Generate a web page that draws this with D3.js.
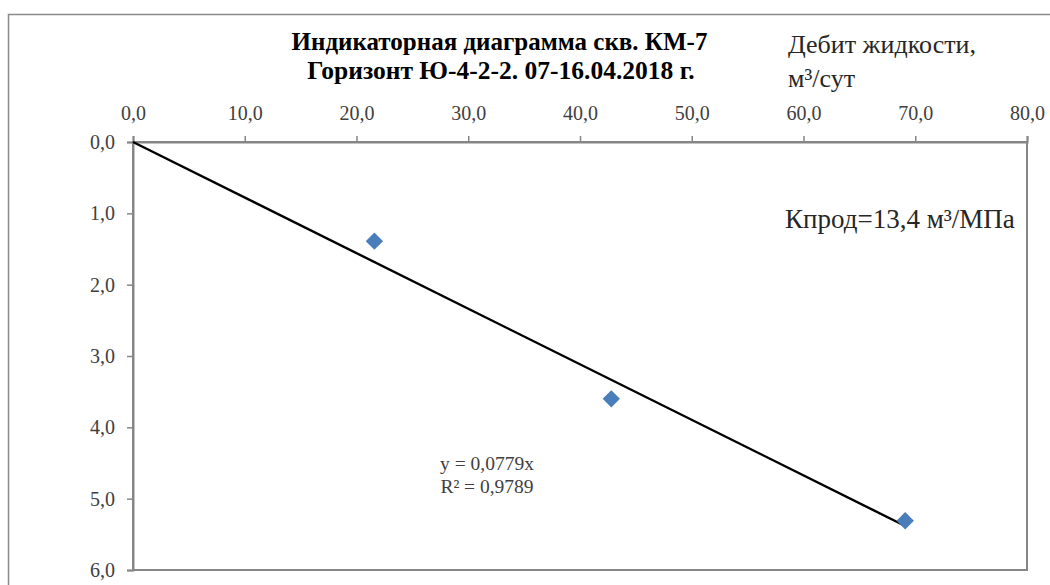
<!DOCTYPE html>
<html><head><meta charset="utf-8">
<script src="https://cdn.jsdelivr.net/npm/d3@7"></script>
<style>body{margin:0;background:#fff}svg{display:block}</style>
</head><body><svg id="c" width="1050" height="585"></svg>
<script>
const rateX = [21.6, 42.8, 69.1];       // Дебит жидкости, м3/сут
const depressionY = [1.39, 3.60, 5.31]; // депрессия, МПа
const xTicks = [0,10,20,30,40,50,60,70,80];
const yTicks = [0,1,2,3,4,5,6];
const slope = 0.0779;
const r2 = "0,9789";
const titleLines = ["Индикаторная диаграмма скв. КМ-7", "Горизонт Ю-4-2-2. 07-16.04.2018 г."];
const xTitleLines = ["Дебит жидкости,", "м³/сут"];
const kprodLabel = "Кпрод=13,4 м³/МПа";

const FF = '"Liberation Serif","Times New Roman",serif';
const svg = d3.select("#c");
const m = {l:133, t:142, r:1027, b:570};
const x = d3.scaleLinear().domain([0,80]).range([m.l, m.r]);
const y = d3.scaleLinear().domain([0,6]).range([m.t, m.b]);
const fmt = d => d3.format(".1f")(d).replace(".", ",");

svg.append("rect").attr("x",8.5).attr("y",14.5).attr("width",1100).attr("height",700)
  .attr("fill","#fff").attr("stroke","#8a8a8a").attr("stroke-width",1.5);

svg.append("rect").attr("x",m.l).attr("y",m.t).attr("width",m.r-m.l).attr("height",m.b-m.t)
  .attr("fill","none").attr("stroke","#868686").attr("stroke-width",2);

const gx = svg.append("g").attr("transform",`translate(0,${m.t})`)
  .call(d3.axisTop(x).tickValues(xTicks).tickFormat(fmt).tickSize(6).tickPadding(16));
const gy = svg.append("g").attr("transform",`translate(${m.l},0)`)
  .call(d3.axisLeft(y).tickValues(yTicks).tickFormat(fmt).tickSize(6).tickPadding(12));
[gx,gy].forEach(g=>{
  g.attr("font-family", FF).attr("font-size", 20);
  g.select(".domain").attr("stroke","#868686").attr("stroke-width",2);
  g.selectAll(".tick line").attr("stroke","#868686").attr("stroke-width",1.5);
  g.selectAll(".tick text").attr("fill","#404040").attr("font-family",FF).attr("font-size",20);
});

// trendline (linear, through origin)
const xmax = d3.max(rateX);
svg.append("line").attr("x1",x(0)).attr("y1",y(0)).attr("x2",x(xmax)).attr("y2",y(slope*xmax))
  .attr("stroke","#000").attr("stroke-width",2.4);

// points
svg.selectAll(".pt").data(rateX.map((v,i)=>[v,depressionY[i]])).enter().append("path")
  .attr("class","pt")
  .attr("d", d3.symbol(d3.symbolSquare, 150)())
  .attr("transform", d=>`translate(${x(d[0])},${y(d[1])}) rotate(45)`)
  .attr("fill","#4a7ebb");

const txt = (xx, yy, s, size, opts={}) => svg.append("text").attr("x",xx).attr("y",yy)
  .attr("font-family",FF).attr("font-size",size)
  .attr("font-weight",opts.bold?"bold":"normal")
  .attr("text-anchor",opts.anchor||"start")
  .attr("fill",opts.fill||"#000").text(s);

// title
txt(499.5, 50, titleLines[0], 25, {bold:true, anchor:"middle"});
txt(501, 79, titleLines[1], 25.5, {bold:true, anchor:"middle"});

// axis title
txt(788, 53, xTitleLines[0], 26, {fill:"#262626"});
txt(788, 87, xTitleLines[1], 26, {fill:"#262626"});

// Kprod
txt(785, 228, kprodLabel, 27, {fill:"#262626"});

// equation
txt(487, 470, "y = " + String(slope).replace(".", ",") + "x", 19.5, {anchor:"middle", fill:"#404040"});
txt(487, 493, "R² = " + r2, 19.5, {anchor:"middle", fill:"#404040"});
</script></body></html>
